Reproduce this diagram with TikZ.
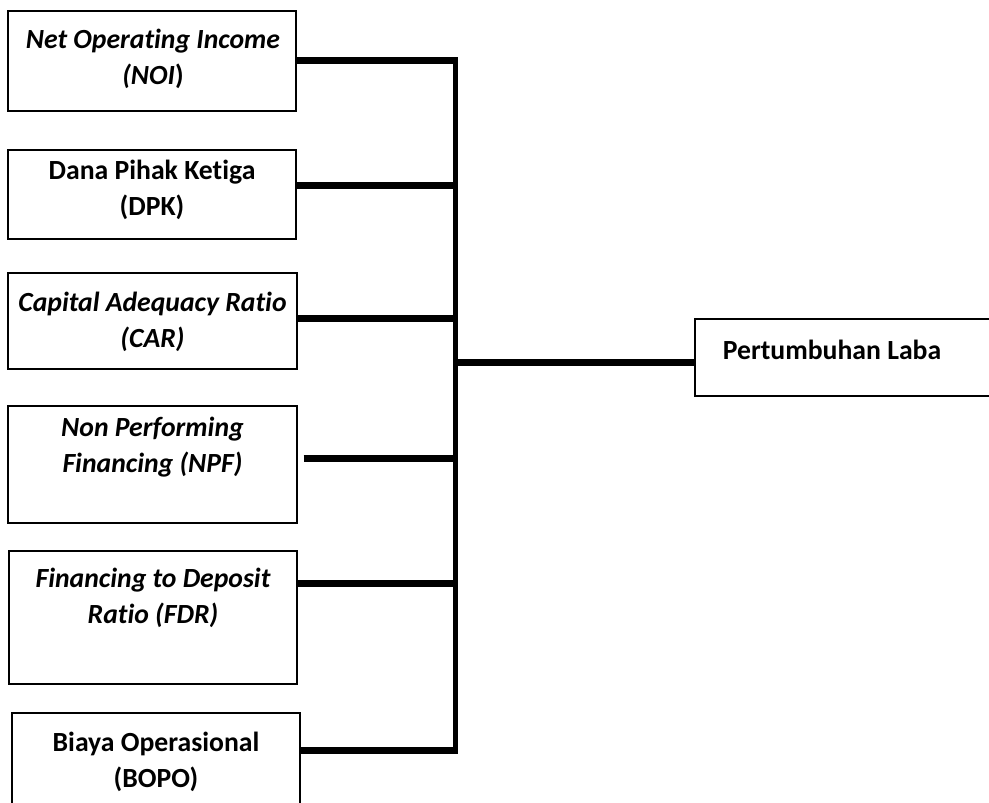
\documentclass[tikz,border=0pt]{standalone}
\usepackage{fontspec}
\setmainfont{Carlito}[Ligatures=NoCommon]
\usetikzlibrary{positioning}

\tikzset{
  factor/.style={draw,line width=1.3pt,inner sep=0pt},
  caption/.style={font=\bfseries\fontsize{27.7}{36}\selectfont,align=center,inner sep=0pt},
  link/.style={line width=7pt},
  trunk/.style={line width=5pt}
}

\begin{document}
\begin{tikzpicture}[x=1pt,y=-1pt]
  \path[use as bounding box,clip] (0,0) rectangle (989,803);

  % boxes on the left
  \node [factor,minimum width=288,minimum height=100] (noi) at (152,61) {};
  \node [factor,minimum width=288,minimum height=89] (dpk) at (152,194.5) {};
  \node [factor,minimum width=289,minimum height=96] (car) at (152.5,321) {};
  \node [factor,minimum width=289,minimum height=117] (npf) at (152.5,464.5) {};
  \node [factor,minimum width=288,minimum height=133] (fdr) at (153,617.5) {};
  \node [factor,minimum width=288,minimum height=120] (bopo) at (156,773) {};
  % box on the right
  \node [factor,minimum width=320,minimum height=77] (laba) at (855,357.5) {};

  \node [caption] (noi-t) at (153,58.5) {\itshape Net Operating Income\\\itshape(NOI\upshape)};
  \node [caption] (dpk-t) at (152,190) {Dana Pihak Ketiga\\(DPK)};
  \node [caption] (car-t) at (152.5,321.5) {\itshape Capital Adequacy Ratio\\\itshape(CAR)};
  \node [caption] (npf-t) at (152.5,447.5) {\itshape Non Performing\\\itshape Financing (NPF)};
  \node [caption] (fdr-t) at (153,597.5) {\itshape Financing to Deposit\\\itshape Ratio (FDR)};
  \node [caption] (bopo-t) at (156,761.5) {Biaya Operasional\\(BOPO)};
  \node [caption,anchor=base] (laba-t) at (832,359) {Pertumbuhan Laba};

  % joints on the trunk
  \coordinate (j1) at (455,60);
  \coordinate (j2) at (455,185);
  \coordinate (j3) at (455,318);
  \coordinate (jl) at (455,362);
  \coordinate (j4) at (458,458);
  \coordinate (j5) at (455,583);
  \coordinate (j6) at (455,750);

  \draw [trunk] ([yshift=-3.5]j1) -- ([yshift=3.5]j6);

  \draw [link] (noi.east |- j1) -- ([xshift=2.5]j1);
  \draw [link] (dpk.east |- j2) -- ([xshift=2.5]j2);
  \draw [link] (car.east |- j3) -- ([xshift=2.5]j3);
  \draw [link] ([xshift=6]npf.east |- j4) -- (j4);
  \draw [link] (fdr.east |- j5) -- ([xshift=2.5]j5);
  \draw [link] (bopo.east |- j6) -- ([xshift=2.5]j6);
  \draw [link] (jl) -- (laba.west |- jl);

\end{tikzpicture}
\end{document}
